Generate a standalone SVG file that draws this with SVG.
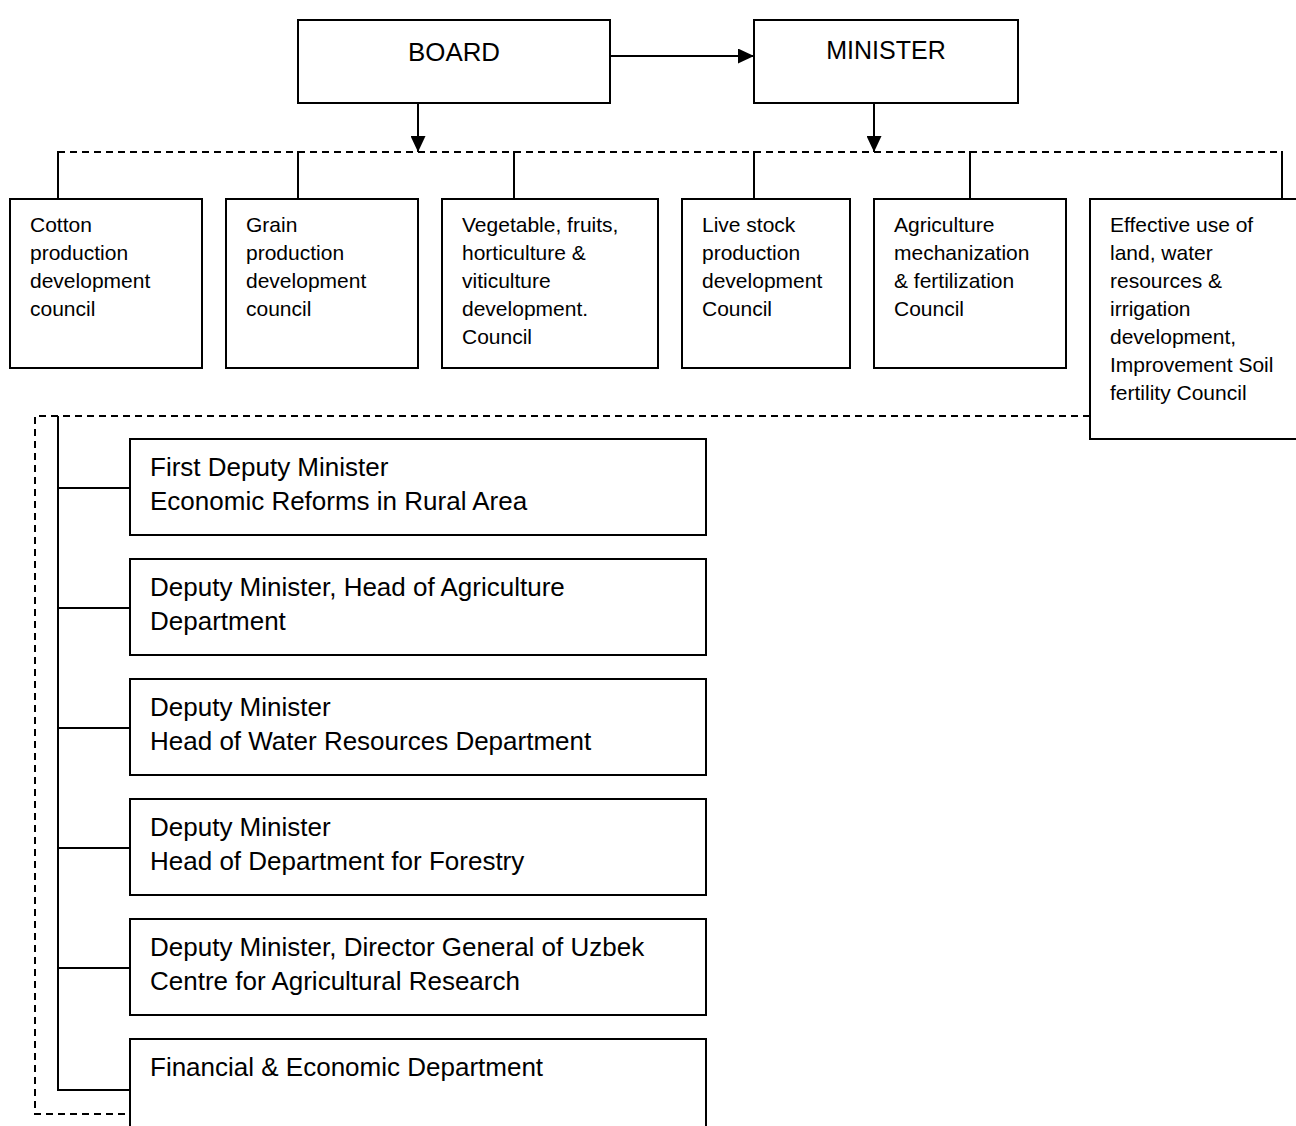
<svg xmlns="http://www.w3.org/2000/svg" width="1296" height="1126" viewBox="0 0 1296 1126">
<style>
  .box { fill: #ffffff; stroke: #000000; stroke-width: 2; }
  .ln { fill: none; stroke: #000000; stroke-width: 2; }
  .dash { fill: none; stroke: #000000; stroke-width: 2; stroke-dasharray: 7 5; }
  .head { font-family: "Liberation Sans", Arial, sans-serif; font-size: 25px; fill: #000; text-anchor: middle; }
  .cn { font-family: "Liberation Sans", Arial, sans-serif; font-size: 21px; fill: #000; }
  .dp { font-family: "Liberation Sans", Arial, sans-serif; font-size: 26px; fill: #000; }
</style>
<defs>
  <marker id="arr" viewBox="0 0 16 15" refX="16" refY="7.5" markerWidth="16" markerHeight="15" markerUnits="userSpaceOnUse" orient="auto">
    <path d="M0,0 L16,7.5 L0,15 Z" fill="#000"/>
  </marker>
</defs>
<rect width="1296" height="1126" fill="#ffffff"/>

<g id="connectors">
  <line class="ln" x1="610" y1="56" x2="754" y2="56" marker-end="url(#arr)"/>
  <line class="ln" x1="418" y1="103" x2="418" y2="152" marker-end="url(#arr)"/>
  <line class="ln" x1="874" y1="103" x2="874" y2="152" marker-end="url(#arr)"/>
  <line class="dash" x1="58" y1="152" x2="1282" y2="152"/>
  <line class="ln" x1="58" y1="151" x2="58" y2="199"/>
  <line class="ln" x1="298" y1="151" x2="298" y2="199"/>
  <line class="ln" x1="514" y1="151" x2="514" y2="199"/>
  <line class="ln" x1="754" y1="151" x2="754" y2="199"/>
  <line class="ln" x1="970" y1="151" x2="970" y2="199"/>
  <line class="ln" x1="1282" y1="151" x2="1282" y2="199"/>
  <path class="dash" d="M1090,416 L35,416 L35,1114 L130,1114"/>
  <path class="ln" d="M58,416 L58,1090 L130,1090"/>
  <line class="ln" x1="58" y1="488" x2="130" y2="488"/>
  <line class="ln" x1="58" y1="608" x2="130" y2="608"/>
  <line class="ln" x1="58" y1="728" x2="130" y2="728"/>
  <line class="ln" x1="58" y1="848" x2="130" y2="848"/>
  <line class="ln" x1="58" y1="968" x2="130" y2="968"/>
</g>

<g id="board">
  <rect class="box" x="298" y="20" width="312" height="83"/>
  <text class="head" x="454" y="61" textLength="92" lengthAdjust="spacingAndGlyphs">BOARD</text>
</g>
<g id="minister">
  <rect class="box" x="754" y="20" width="264" height="83"/>
  <text class="head" x="886" y="59">MINISTER</text>
</g>

<g id="cotton">
  <rect class="box" x="10" y="199" width="192" height="169"/>
  <text class="cn" x="30" y="232">Cotton</text>
  <text class="cn" x="30" y="260">production</text>
  <text class="cn" x="30" y="288">development</text>
  <text class="cn" x="30" y="316">council</text>
</g>
<g id="grain">
  <rect class="box" x="226" y="199" width="192" height="169"/>
  <text class="cn" x="246" y="232">Grain</text>
  <text class="cn" x="246" y="260">production</text>
  <text class="cn" x="246" y="288">development</text>
  <text class="cn" x="246" y="316">council</text>
</g>
<g id="vegetable">
  <rect class="box" x="442" y="199" width="216" height="169"/>
  <text class="cn" x="462" y="232">Vegetable, fruits,</text>
  <text class="cn" x="462" y="260">horticulture &amp;</text>
  <text class="cn" x="462" y="288">viticulture</text>
  <text class="cn" x="462" y="316">development.</text>
  <text class="cn" x="462" y="344">Council</text>
</g>
<g id="livestock">
  <rect class="box" x="682" y="199" width="168" height="169"/>
  <text class="cn" x="702" y="232">Live stock</text>
  <text class="cn" x="702" y="260">production</text>
  <text class="cn" x="702" y="288">development</text>
  <text class="cn" x="702" y="316">Council</text>
</g>
<g id="mechanization">
  <rect class="box" x="874" y="199" width="192" height="169"/>
  <text class="cn" x="894" y="232">Agriculture</text>
  <text class="cn" x="894" y="260">mechanization</text>
  <text class="cn" x="894" y="288">&amp; fertilization</text>
  <text class="cn" x="894" y="316">Council</text>
</g>
<g id="land">
  <rect class="box" x="1090" y="199" width="220" height="240"/>
  <text class="cn" x="1110" y="232">Effective use of</text>
  <text class="cn" x="1110" y="260">land, water</text>
  <text class="cn" x="1110" y="288">resources &amp;</text>
  <text class="cn" x="1110" y="316">irrigation</text>
  <text class="cn" x="1110" y="344">development,</text>
  <text class="cn" x="1110" y="372">Improvement Soil</text>
  <text class="cn" x="1110" y="400">fertility Council</text>
</g>

<g id="first-deputy">
  <rect class="box" x="130" y="439" width="576" height="96"/>
  <text class="dp" x="150" y="476">First Deputy Minister</text>
  <text class="dp" x="150" y="510">Economic Reforms in Rural Area</text>
</g>
<g id="deputy-agriculture">
  <rect class="box" x="130" y="559" width="576" height="96"/>
  <text class="dp" x="150" y="596">Deputy Minister, Head of Agriculture</text>
  <text class="dp" x="150" y="630">Department</text>
</g>
<g id="deputy-water">
  <rect class="box" x="130" y="679" width="576" height="96"/>
  <text class="dp" x="150" y="716">Deputy Minister</text>
  <text class="dp" x="150" y="750">Head of Water Resources Department</text>
</g>
<g id="deputy-forestry">
  <rect class="box" x="130" y="799" width="576" height="96"/>
  <text class="dp" x="150" y="836">Deputy Minister</text>
  <text class="dp" x="150" y="870">Head of Department for Forestry</text>
</g>
<g id="deputy-research">
  <rect class="box" x="130" y="919" width="576" height="96"/>
  <text class="dp" x="150" y="956">Deputy Minister, Director General of Uzbek</text>
  <text class="dp" x="150" y="990">Centre for Agricultural Research</text>
</g>
<g id="financial">
  <rect class="box" x="130" y="1039" width="576" height="110"/>
  <text class="dp" x="150" y="1076">Financial &amp; Economic Department</text>
</g>
</svg>
